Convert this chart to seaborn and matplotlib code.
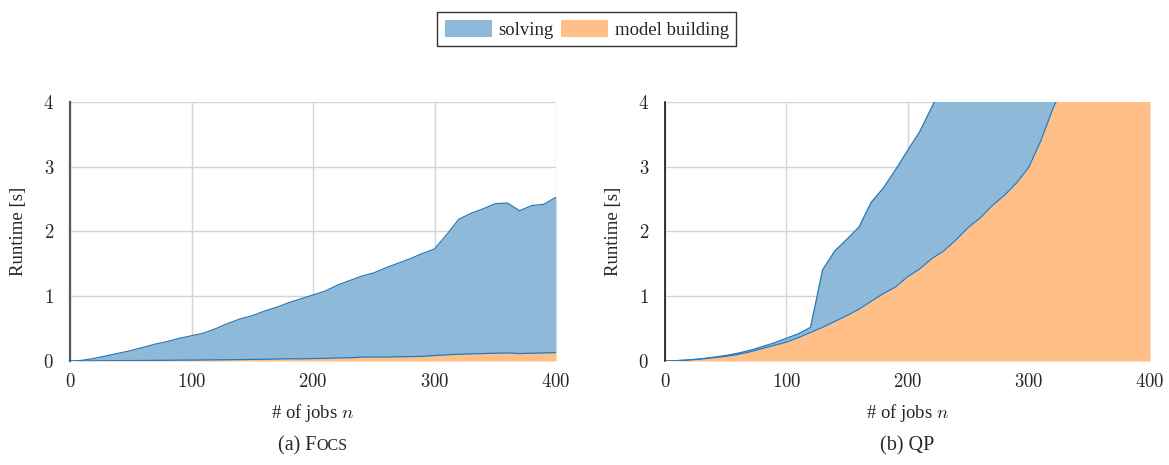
import numpy as np
import pandas as pd
import matplotlib
matplotlib.use("Agg")
import matplotlib.pyplot as plt
from matplotlib.patches import Patch
import seaborn as sns

# Number of jobs (shared x values)
jobs = list(range(0, 401, 10))

# FOCS: cumulative runtime (model building + solving) and model building part [s]
focs_total = [0.00, 0.01, 0.04, 0.08, 0.12, 0.16, 0.21, 0.26, 0.30, 0.35,
              0.39, 0.43, 0.50, 0.58, 0.65, 0.70, 0.77, 0.83, 0.90, 0.96,
              1.02, 1.08, 1.17, 1.24, 1.31, 1.36, 1.44, 1.51, 1.58, 1.66,
              1.73, 1.95, 2.19, 2.28, 2.35, 2.43, 2.44, 2.32, 2.40, 2.42,
              2.53]
focs_model = [0.000, 0.001, 0.002, 0.004, 0.005, 0.007, 0.008, 0.010, 0.011, 0.013,
              0.014, 0.016, 0.018, 0.020, 0.022, 0.024, 0.026, 0.030, 0.035, 0.033,
              0.038, 0.040, 0.048, 0.050, 0.060, 0.062, 0.060, 0.065, 0.068, 0.072,
              0.085, 0.095, 0.105, 0.110, 0.115, 0.120, 0.125, 0.115, 0.120, 0.125,
              0.130]

# QP: cumulative runtime and model building part [s]
qp_total = [0.000, 0.006, 0.018, 0.035, 0.058, 0.085, 0.12, 0.165, 0.22, 0.28,
            0.35, 0.42, 0.52, 1.41, 1.70, 1.88, 2.07, 2.45, 2.67, 2.95,
            3.25, 3.54, 3.92, 4.30, 4.70, 5.05, 5.40, 5.80, 6.20, 6.60,
            7.00, 7.40, 7.80, 8.20, 8.60, 9.00, 9.40, 9.80, 10.2, 10.6,
            11.0]
qp_model = [0.000, 0.005, 0.015, 0.030, 0.050, 0.070, 0.10, 0.14, 0.19, 0.24,
            0.29, 0.36, 0.44, 0.52, 0.61, 0.70, 0.80, 0.92, 1.04, 1.14,
            1.30, 1.42, 1.58, 1.70, 1.87, 2.06, 2.21, 2.40, 2.56, 2.75,
            2.99, 3.40, 3.90, 4.30, 4.60, 4.90, 5.20, 5.50, 5.80, 6.10,
            6.40]

x_ticks = [0, 100, 200, 300, 400]
y_ticks = [0, 1, 2, 3, 4]
series_labels = ["solving", "model building"]
captions = [("(a) F", "OCS"), ("(b) QP", "")]

blue_fill = "#8fb9d8"
orange_fill = "#ffbf86"
edge_blue = "#2a78b5"

sns.set_theme(style="whitegrid")
plt.rcParams["font.family"] = ["Liberation Serif", "DejaVu Serif"]
plt.rcParams["mathtext.fontset"] = "cm"
plt.rcParams["axes.formatter.use_mathtext"] = True

fig = plt.figure(figsize=(11.69, 4.65), dpi=100)
ax_left = fig.add_axes([70 / 1169, 104 / 465, 486 / 1169, 259 / 465])
ax_right = fig.add_axes([665 / 1169, 104 / 465, 485 / 1169, 259 / 465])

panels = [
    (ax_left, focs_total, focs_model, "#5a5a5a", 1.6),
    (ax_right, qp_total, qp_model, "black", 1.1),
]

caption_parts = []
for (ax, total, model, spine_col, spine_lw), (cap_main, cap_small) in zip(panels, captions):
    df = pd.DataFrame({"jobs": jobs, "total": total, "model": model})
    ax.set_facecolor("white")
    ax.fill_between(df["jobs"], 0, df["model"], color=orange_fill, lw=0, zorder=2)
    ax.fill_between(df["jobs"], df["model"], df["total"], color=blue_fill, lw=0, zorder=2)
    sns.lineplot(data=df, x="jobs", y="model", ax=ax, color=edge_blue, lw=0.9, zorder=3)
    sns.lineplot(data=df, x="jobs", y="total", ax=ax, color=edge_blue, lw=0.9, zorder=3)

    ax.set_xlim(0, 400)
    ax.set_ylim(0, 4)
    ax.set_xticks(x_ticks)
    ax.set_yticks(y_ticks)
    ax.grid(True, color="#d4d4d4", lw=1.0, zorder=0)
    ax.set_axisbelow(True)
    for side in ("top", "right", "bottom"):
        ax.spines[side].set_visible(False)
    ax.spines["left"].set_visible(True)
    ax.spines["left"].set_color(spine_col)
    ax.spines["left"].set_linewidth(spine_lw)
    ax.spines["left"].set_zorder(4)

    ax.tick_params(axis="both", which="major", direction="inout", length=7,
                   width=1.0, color="#8a8a8a", labelsize=13.5,
                   labelfontfamily="cmr10")
    ax.tick_params(axis="x", pad=5)
    ax.tick_params(axis="y", pad=8)

    ax.set_xlabel("# of jobs $n$", fontsize=13.5, labelpad=8)
    ax.set_ylabel("Runtime [s]", fontsize=13.5, labelpad=12)

    # caption under each panel; the small-caps tail shares the baseline
    cap_y = -0.345
    t1 = ax.text(0.5, cap_y, cap_main, transform=ax.transAxes, fontsize=14.5,
                 ha="left", va="baseline")
    t2 = ax.text(0.5, cap_y, cap_small, transform=ax.transAxes, fontsize=11.5,
                 ha="left", va="baseline")
    caption_parts.append((ax, t1, t2))

# centre each caption as a whole
fig.canvas.draw()
renderer = fig.canvas.get_renderer()
for ax, t1, t2 in caption_parts:
    ax_w = ax.get_window_extent(renderer).width
    w1 = t1.get_window_extent(renderer).width / ax_w
    w2 = (t2.get_window_extent(renderer).width / ax_w) if t2.get_text() else 0.0
    start = 0.5 - (w1 + w2) / 2
    y = t1.get_position()[1]
    t1.set_position((start, y))
    t2.set_position((start + w1, y))

handles = [Patch(facecolor=blue_fill, edgecolor="none"),
           Patch(facecolor=orange_fill, edgecolor="none")]
leg = fig.legend(handles, series_labels, loc="center", bbox_to_anchor=(0.502, 0.937),
                 ncol=2, frameon=True, fancybox=False, fontsize=13.5,
                 handlelength=2.5, handleheight=1.0, handletextpad=0.35,
                 columnspacing=0.4, borderpad=0.4, borderaxespad=0)
leg.get_frame().set_edgecolor("black")
leg.get_frame().set_linewidth(1.0)

fig.savefig("out.png", dpi=100)
